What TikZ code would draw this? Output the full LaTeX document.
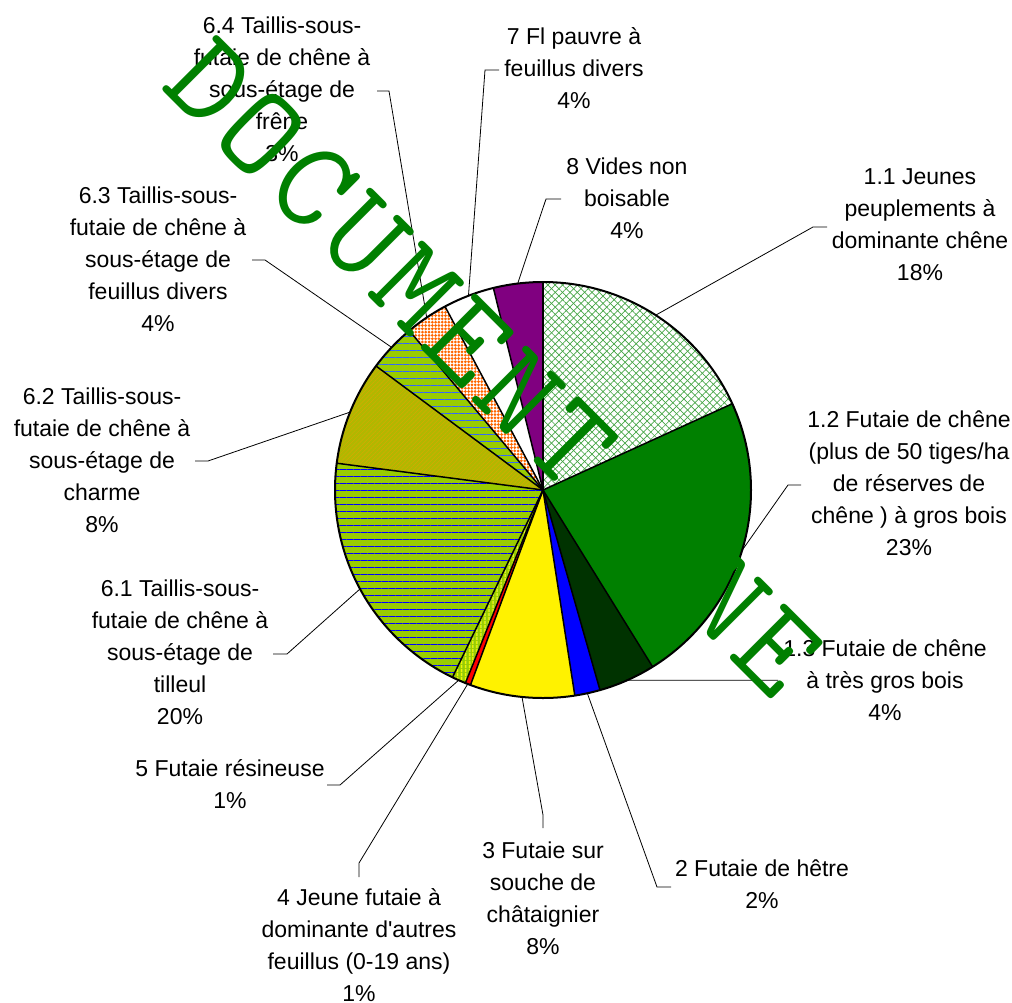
\documentclass[tikz,border=0pt]{standalone}
\usepackage{fontspec}
\newfontfamily\lblfont{Liberation Sans}
\usetikzlibrary{calc,patterns,patterns.meta}
\definecolor{dgreen}{HTML}{008000}
\definecolor{ddgreen}{HTML}{003300}
\definecolor{hgreen}{RGB}{70,165,70}
\definecolor{lgreen}{HTML}{99CC00}
\definecolor{olive2}{HTML}{B0B800}
\definecolor{ored}{HTML}{FF6600}
\definecolor{lblue}{HTML}{3366FF}
\definecolor{purp}{HTML}{800080}
\tikzset{
  s11/.style={fill=white,
    postaction={pattern={Lines[angle=45,distance=5.2pt,line width=0.7pt]},pattern color=hgreen},
    postaction={pattern={Lines[angle=-45,distance=5.2pt,line width=0.7pt]},pattern color=hgreen}},
  s12/.style={fill=dgreen},
  s13/.style={fill=ddgreen},
  s2/.style={fill=blue},
  s3/.style={fill=yellow},
  s4/.style={fill=red},
  s5/.style={fill=lgreen,
    postaction={pattern={Lines[angle=90,distance=4pt,line width=1.4pt]},pattern color=yellow}},
  s61/.style={fill=lgreen,
    postaction={pattern={Lines[angle=0,distance=7pt,line width=1pt]},pattern color=blue}},
  s62/.style={fill=olive2,
    postaction={pattern={Lines[angle=45,distance=3pt,line width=0.5pt]},pattern color={rgb,255:red,215;green,170;blue,0}}},
  s63/.style={fill=lgreen,
    postaction={pattern={Lines[angle=0,distance=7pt,line width=1pt]},pattern color=lblue}},
  s64/.style={fill=white,
    postaction={pattern={Dots[distance=3.3pt,radius=1.5pt]},pattern color=ored}},
  s7/.style={fill=white},
  s8/.style={fill=purp}
}
\begin{document}
\begin{tikzpicture}[x=1pt,y=1pt,
  lbl/.style={font=\lblfont\fontsize{23}{32}\selectfont,align=center,inner sep=0pt},
  lead/.style={draw=black,line width=0.8pt},
  wm/.style={text=dgreen,font=\ttfamily\fontsize{128}{128}\selectfont,rotate=-45,inner sep=0pt}]
\fill[white] (0,0) rectangle (1012,-1002);
\useasboundingbox (0,0) rectangle (1012,-1002);
\coordinate (c) at (543,-490);
\def\R{208}

\foreach \a/\b/\s in {90/24.5/s11,24.5/-58.2/s12,-58.2/-74.1/s13,-74.1/-81.2/s2,
  -81.2/-110.4/s3,-110.4/-111.9/s4,-111.9/-115.8/s5,-115.8/-187.4/s61,
  -187.4/-216.6/s62,-216.6/-230/s63,-230/-241.9/s64,-241.9/-256.2/s7,-256.2/-270/s8}
  \fill[\s] (c) -- ($(c)+(\a:\R)$) arc[start angle=\a,end angle=\b,radius=\R] -- cycle;
\foreach \a in {90,24.5,-58.2,-74.1,-81.2,-110.4,-111.9,-115.8,-187.4,-216.6,-230,-241.9,-256.2}
  \draw[line width=1.5pt] (c) -- ++(\a:\R);
\draw[line width=2pt] (c) circle[radius=\R];

\foreach \n/\m in {11/57.2,12/-16.9,13/-66.2,2/-77.7,3/-95.8,4/-111.2,5/-113.9,
  61/-151.6,62/158,63/136.7,64/124,7/111,8/97}
  \coordinate (p\n) at ($(c)+(\m:\R)$);

\node[lbl] (l11) at (920,-225) {1.1 Jeunes\\peuplements à\\dominante chêne\\18\%};
\node[lbl] (l12) at (909,-483) {1.2 Futaie de chêne\\(plus de 50 tiges/ha\\de réserves de\\chêne ) à gros bois\\23\%};
\node[lbl] (l13) at (885,-680) {1.3 Futaie de chêne\\à très gros bois\\4\%};
\node[lbl] (l2) at (762,-884) {2 Futaie de hêtre\\2\%};
\node[lbl] (l3) at (543,-898) {3 Futaie sur\\souche de\\châtaignier\\8\%};
\node[lbl] (l4) at (359,-945) {4 Jeune futaie à\\dominante d'autres\\feuillus (0-19 ans)\\1\%};
\node[lbl] (l5) at (230,-784) {5 Futaie résineuse\\1\%};
\node[lbl] (l61) at (180,-652) {6.1 Taillis-sous-\\futaie de chêne à\\sous-étage de\\tilleul\\20\%};
\node[lbl] (l62) at (102,-460) {6.2 Taillis-sous-\\futaie de chêne à\\sous-étage de\\charme\\8\%};
\node[lbl] (l63) at (158,-259) {6.3 Taillis-sous-\\futaie de chêne à\\sous-étage de\\feuillus divers\\4\%};
\node[lbl] (l64) at (282,-89) {6.4 Taillis-sous-\\futaie de chêne à\\sous-étage de\\frêne\\3\%};
\node[lbl] (l7) at (574,-68) {7 Fl pauvre à\\feuillus divers\\4\%};
\node[lbl] (l8) at (627,-198) {8 Vides non\\boisable\\4\%};

\coordinate (t11) at (827,-227);
\coordinate (t12) at (801,-485);
\coordinate (t13) at (778,-680.3);
\coordinate (t2) at (671,-887);
\coordinate (t3) at (543,-828);
\coordinate (t4) at (359,-877);
\coordinate (t5) at (327,-785);
\coordinate (t61) at (273,-654);
\coordinate (t62) at (195,-461);
\coordinate (t63) at (252,-260);
\coordinate (t64) at (377,-91);
\coordinate (t7) at (499,-70);
\coordinate (t8) at (561,-199);

\draw[lead] (p11) -- ([xshift=-14pt]t11) -- (t11);
\draw[lead] (p12) -- ([xshift=-13pt]t12) -- (t12);
\draw[lead] (p13) -- (t13);
\draw[lead] (p2) -- ([xshift=-14pt]t2) -- (t2);
\draw[lead] (p3) -- ([yshift=13pt]t3) -- (t3);
\draw[lead] (p4) -- ([yshift=14pt]t4) -- (t4);
\draw[lead] (p5) -- ([xshift=13pt]t5) -- (t5);
\draw[lead] (p61) -- ([xshift=14pt]t61) -- (t61);
\draw[lead] (p62) -- ([xshift=13pt]t62) -- (t62);
\draw[lead] (p63) -- ([xshift=13pt]t63) -- (t63);
\draw[lead] (p64) -- ([xshift=12pt]t64) -- (t64);
\draw[lead] (p7) -- ([xshift=-14pt]t7) -- (t7);
\draw[lead] (p8) -- ([xshift=-15pt]t8) -- (t8);

\begin{scope}[shift={(210,-83)}]
\foreach \ch [count=\i from 0] in {D,O,C,U,M,E,N,T}
  \node[wm] (w\i) at (-45:\i*73) {\ch};
\foreach \ch [count=\i from 10] in {N,E}
  \node[wm] (w\i) at (-45:\i*73) {\ch};
\end{scope}
\end{tikzpicture}
\end{document}
